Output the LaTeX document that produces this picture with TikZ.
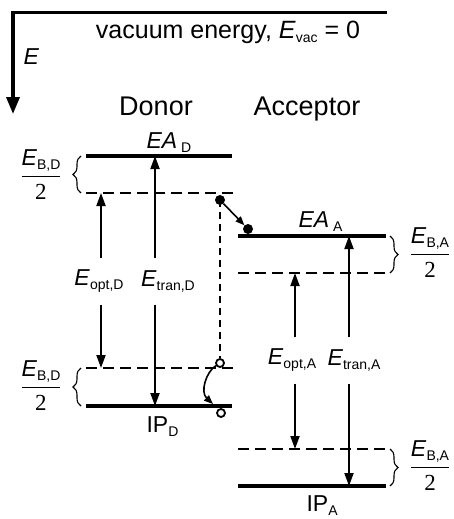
\documentclass[tikz,border=0pt]{standalone}
\usepackage{fontspec}
\setmainfont{Liberation Sans}
\newfontfamily\numfont{Liberation Serif}
\usetikzlibrary{arrows.meta,decorations.pathreplacing}
\newcommand{\subs}[1]{\raisebox{-4pt}{\fontsize{14}{14}\selectfont #1}}
\newcommand{\mitadE}[1]{$\displaystyle\frac{\hbox{\textit{E}\subs{#1}}}{\hbox{\numfont 2}}$}
\begin{document}
\begin{tikzpicture}[x=1pt,y=-1pt,
  font=\fontsize{23}{27}\selectfont,
  titulo/.style={font=\fontsize{27}{30}\selectfont},
  nivel/.style={line width=3.4pt},
  nivelpunt/.style={line width=2.3pt, dash pattern=on 11pt off 6pt},
  flecha/.style={line width=1.9pt, -{Triangle[width=9pt,length=13pt]}},
  flechita/.style={line width=1.6pt, -{Triangle[width=7pt,length=9pt]}},
  llave/.style={line width=1.1pt, decorate, decoration={brace, amplitude=8pt}},
  etq/.style={inner sep=0pt, minimum height=46pt},
  lleno/.style={circle, fill, inner sep=0pt, minimum size=10pt},
  hueco/.style={circle, draw, line width=1.8pt, fill=white, inner sep=0pt, minimum size=8pt}]
\useasboundingbox (0,0) rectangle (454,519);

% Eje de energia y nivel de vacio
\coordinate (vacD) at (387,12.5);
\coordinate (vacI) at (13,12.5);
\coordinate (ejeE) at (13,114);
\draw[line width=3.4pt, line join=miter, -{Triangle[width=13pt,length=17pt]}] (vacD) -- (vacI) -- (ejeE);
\node[anchor=base west] (letraE) at (20,65) {\textit{E}};
\node[anchor=base, font=\fontsize{25}{28}\selectfont] (vacio) at (228,39) {vacuum energy, \textit{E}\subs{vac} = 0};

% Titulos
\node[anchor=base, titulo] (donor) at (156,115) {Donor};
\node[anchor=base, titulo] (acceptor) at (307,115) {Acceptor};

% Niveles del donador
\draw[nivel] (86,156) -- (232,156);
\draw[nivelpunt] (86,193) -- (233,193);
\draw[nivelpunt] (86,368) -- (233,368);
\draw[nivel] (86,406) -- (232,406);
\node[anchor=base west] (eaD) at (143,148) {\textit{EA}\,\subs{D}};
\node[anchor=base west] (ipD) at (143,432) {IP\subs{D}};

% Niveles del aceptor
\draw[nivel] (238,236) -- (386,236);
\draw[nivelpunt] (238,273) -- (387,273);
\draw[nivelpunt] (238,449) -- (387,449);
\draw[nivel] (238,486) -- (386,486);
\node[anchor=base west] (eaA) at (295,227) {\textit{EA}\,\subs{A}};
\node[anchor=base west] (ipA) at (303,511) {IP\subs{A}};

% Llaves E_B/2
\draw[llave] (81,193) -- (81,156);
\draw[llave] (81,406) -- (81,368);
\draw[llave] (390,236) -- (390,273);
\draw[llave] (390,449) -- (390,486);
\node (bD1) at (41,174.5) {\mitadE{B,D}};
\node (bD2) at (41,385.5) {\mitadE{B,D}};
\node (bA1) at (430,252.5) {\mitadE{B,A}};
\node (bA2) at (430,465.5) {\mitadE{B,A}};

% Energias de transicion
\coordinate (optD1) at (101,193);
\coordinate (optD2) at (101,368);
\coordinate (trnD1) at (155,156);
\coordinate (trnD2) at (155,406);
\coordinate (optA1) at (295,273);
\coordinate (optA2) at (295,449);
\coordinate (trnA1) at (349,236);
\coordinate (trnA2) at (349,486);
\node[etq] (eoptD) at (99,281.5) {\textit{E}\subs{opt,D}};
\node[etq] (etrnD) at (168,281.5) {\textit{E}\subs{tran,D}};
\node[etq] (eoptA) at (292,360.5) {\textit{E}\subs{opt,A}};
\node[etq] (etrnA) at (354,360.5) {\textit{E}\subs{tran,A}};
\draw[flecha] (optD1 |- eoptD.north) -- (optD1);
\draw[flecha] (optD1 |- eoptD.south) -- (optD2);
\draw[flecha] (trnD1 |- etrnD.north) -- (trnD1);
\draw[flecha] (trnD1 |- etrnD.south) -- (trnD2);
\draw[flecha] (optA1 |- eoptA.north) -- (optA1);
\draw[flecha] (optA1 |- eoptA.south) -- (optA2);
\draw[flecha] (trnA1 |- etrnA.north) -- (trnA1);
\draw[flecha] (trnA1 |- etrnA.south) -- (trnA2);

% Transferencia de carga
\node[hueco] (hD1) at (220,363) {};
\draw[line width=2pt, dash pattern=on 7pt off 5pt] (220,200) -- (hD1);
\node[lleno] (eD) at (220,200) {};
\node[lleno] (eA) at (248,229) {};
\node[hueco] (hD2) at (221,413) {};
\coordinate (hfin) at (213,404);
\draw[flechita] (eD) -- (eA);
\draw[flechita] (hD1) .. controls (206,372) and (200,392) .. (hfin);
\end{tikzpicture}
\end{document}
